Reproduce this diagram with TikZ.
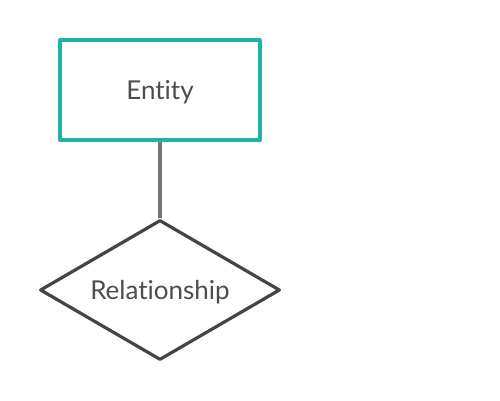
\documentclass[tikz,border=0pt]{standalone}
\usepackage{fontspec}
\setmainfont[Ligatures=NoCommon]{Lato}
\usetikzlibrary{shapes.geometric}
\definecolor{entteal}{RGB}{32,178,170}
\definecolor{lnkgray}{RGB}{118,118,118}
\definecolor{relgray}{RGB}{68,68,68}
\definecolor{txtgray}{RGB}{77,77,77}
\begin{document}
\begin{tikzpicture}[x=1pt, y=-1pt, font=\fontsize{26}{30}\selectfont, line join=round,
		entity/.style={draw=entteal, line width=3.2pt, minimum width=200pt, minimum height=100pt, text=txtgray, text depth=0pt, inner sep=0pt},
		relation/.style={draw=relgray, diamond, aspect=1.714, line width=3.2pt, minimum width=240pt, minimum height=140pt, text=txtgray, text depth=0pt, inner sep=0pt},
		link/.style={draw=lnkgray, line width=3.2pt}]
			\useasboundingbox (0,0) rectangle (500,400);
			\node[entity] (ent) at (160,90) {Entity};
			\node[relation] (rel) at (160,290) {Relationship};
			\draw[link] (ent.south)--(rel.north);
		\end{tikzpicture}
\end{document}
